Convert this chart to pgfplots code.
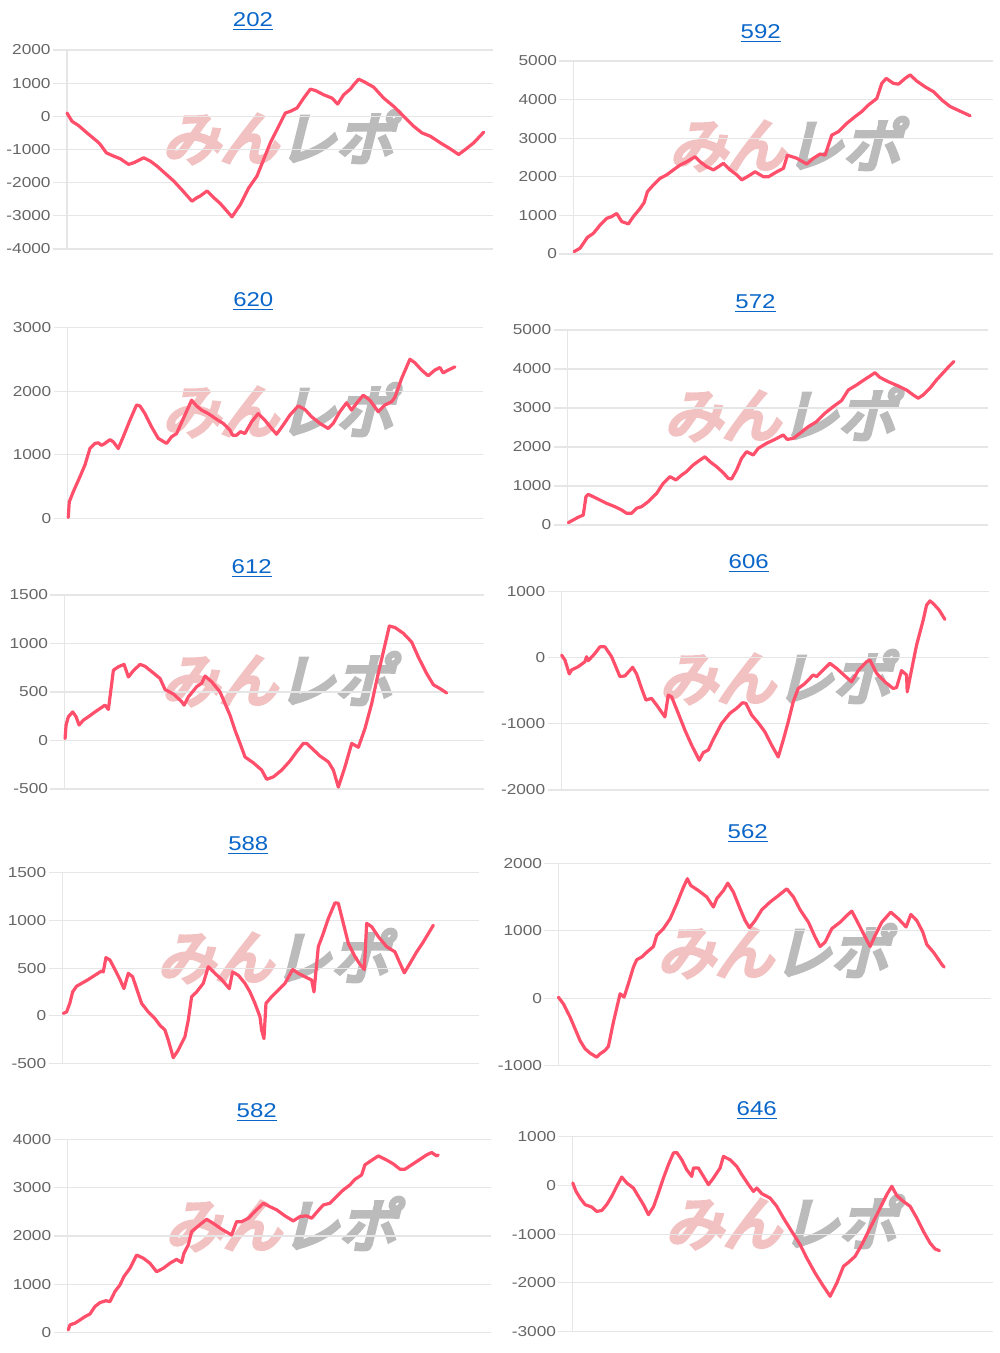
\documentclass[border=0pt]{standalone}
\usepackage{fontspec}
\setmainfont{Liberation Sans}[FakeStretch=1.2]
\newfontfamily\wm{Noto Sans CJK JP}[FakeSlant=0.25,FakeBold=7]
\usepackage{pgfplots}
\pgfplotsset{compat=1.18}
\definecolor{linered}{HTML}{FF4F6B}
\definecolor{titleblue}{HTML}{0A66C8}
\definecolor{ticklab}{HTML}{666666}
\definecolor{gridc}{HTML}{E6E6E6}
\definecolor{zeroc}{HTML}{C4C4C4}
\definecolor{wmpink}{HTML}{F2C2C2}
\definecolor{wmgray}{HTML}{BBBBBB}
\pgfplotsset{panel/.style={
  scale only axis, anchor=south west, clip=false,
  axis x line=none, axis y line*=left,
  y axis line style={gridc, line width=0.6pt},
  ymajorgrids, major grid style={gridc, line width=0.6pt},
  tick align=outside, major tick length=7pt,
  ytick style={gridc, line width=0.6pt},
  yticklabel style={font=\fontsize{7.2}{8}\selectfont, text=ticklab, inner sep=1pt},
  /pgf/number format/assume math mode=true,
  /pgf/number format/set thousands separator={},
  scaled y ticks=false,
  extra y tick labels={},
  extra y tick style={grid style={zeroc, line width=0.8pt}, tick style={gridc}},
  cycle list={{linered, mark=none}},
  every axis plot post/.append style={line width=1.6pt, line join=round, line cap=round},
}}
\newcommand{\wmark}[2]{\node at (#1*0.5pt,-#2*0.5pt) {\wm\fontsize{29}{29}\selectfont\textcolor{wmpink}{みん}\textcolor{wmgray}{レポ}};}
\newcommand{\ttl}[3]{\node[text=titleblue, font=\fontsize{10}{12}\selectfont] at (#1*0.5pt,-#2*0.5pt) {\underline{#3}};}
\begin{document}
\begin{tikzpicture}
\path[use as bounding box] (0,0) rectangle (500pt,-676.5pt);
\wmark{278}{137}\wmark{785}{144}\wmark{278}{410}\wmark{780}{414}\wmark{277}{679}
\wmark{775}{677}\wmark{273}{956}\wmark{773}{951}\wmark{281}{1224}\wmark{781}{1222}
\ttl{253}{22}{202}\ttl{760.7}{34}{592}\ttl{253.3}{301.3}{620}\ttl{755.5}{303.3}{572}
\ttl{251.7}{569}{612}\ttl{748.7}{564}{606}\ttl{248.3}{845.7}{588}\ttl{747.7}{834}{562}
\ttl{256.7}{1112.3}{582}\ttl{756.7}{1110.7}{646}
% 202
\begin{axis}[panel, at={(33.5pt,-124.5pt)}, width=213pt, height=99.5pt,
  xmin=200, xmax=1478, ymin=-4000, ymax=2000, ytick={-4000,-3000,...,2000}, extra y ticks={0,-4000}]
\addplot coordinates {(200,100)(215,-150)(235,-280)(260,-500)(290,-750)(300,-850)(318,-1100)(340,-1200)(360,-1280)(385,-1450)(400,-1400)(430,-1250)(450,-1350)(470,-1500)(490,-1680)(520,-1950)(545,-2220)(575,-2560)(590,-2450)(600,-2400)(620,-2250)(640,-2450)(660,-2630)(680,-2860)(695,-3030)(720,-2660)(745,-2160)(770,-1800)(790,-1300)(810,-800)(830,-400)(855,100)(870,150)(890,250)(910,550)(930,820)(945,780)(970,650)(995,550)(1012,370)(1030,650)(1050,820)(1060,950)(1075,1120)(1090,1050)(1120,880)(1150,550)(1180,300)(1210,0)(1240,-300)(1265,-500)(1290,-600)(1320,-800)(1345,-950)(1375,-1150)(1395,-1000)(1420,-800)(1450,-480)};
\end{axis}
% 592
\begin{axis}[panel, at={(286.7pt,-127pt)}, width=209.7pt, height=96.5pt,
  xmin=220, xmax=1478, ymin=0, ymax=5000, ytick={0,1000,...,5000}, extra y ticks={0}]
\addplot coordinates {(222,60)(240,150)(262,430)(280,535)(300,750)(320,925)(335,970)(350,1050)(365,840)(385,780)(400,970)(420,1180)(432,1330)(442,1615)(460,1790)(480,1960)(500,2050)(520,2180)(540,2305)(560,2390)(585,2520)(600,2390)(620,2260)(640,2180)(655,2260)(670,2350)(690,2180)(710,2050)(725,1920)(745,2020)(765,2130)(790,2000)(805,2000)(830,2130)(850,2220)(862,2560)(890,2480)(920,2330)(940,2480)(960,2590)(975,2560)(995,3080)(1015,3170)(1040,3385)(1065,3560)(1085,3690)(1105,3860)(1130,4030)(1145,4420)(1158,4550)(1180,4420)(1195,4400)(1215,4550)(1230,4640)(1250,4480)(1275,4330)(1300,4205)(1325,3990)(1350,3820)(1380,3700)(1410,3580)};
\end{axis}
% 620
\begin{axis}[panel, at={(33.8pt,-259.2pt)}, width=207.8pt, height=95.3pt,
  xmin=203, xmax=1450, ymin=0, ymax=3000, ytick={0,1000,...,3000}, extra y ticks={0}]
\addplot coordinates {(205,15)(208,260)(220,420)(240,655)(255,840)(270,1100)(285,1180)(295,1190)(305,1150)(315,1180)(330,1240)(340,1205)(355,1100)(370,1285)(390,1545)(410,1785)(420,1770)(435,1650)(455,1440)(475,1260)(500,1180)(515,1285)(530,1335)(555,1625)(575,1860)(590,1770)(605,1705)(625,1650)(650,1560)(670,1495)(690,1390)(698,1310)(710,1310)(722,1365)(735,1335)(755,1520)(775,1650)(795,1545)(815,1415)(830,1325)(850,1470)(870,1625)(895,1770)(915,1715)(935,1600)(960,1495)(985,1415)(1000,1495)(1020,1680)(1040,1820)(1055,1705)(1070,1810)(1090,1940)(1110,1860)(1135,1680)(1155,1785)(1175,1835)(1185,1905)(1205,2200)(1230,2505)(1245,2450)(1265,2335)(1285,2245)(1305,2335)(1320,2375)(1330,2290)(1345,2335)(1365,2385)};
\end{axis}
% 572
\begin{axis}[panel, at={(283.8pt,-262.5pt)}, width=210.3pt, height=97.5pt,
  xmin=203, xmax=1465, ymin=0, ymax=5000, ytick={0,1000,...,5000}, extra y ticks={0}]
\addplot coordinates {(205,60)(220,130)(235,200)(250,255)(258,725)(265,785)(280,725)(300,640)(320,555)(345,470)(365,385)(380,300)(395,300)(410,430)(425,470)(445,600)(470,810)(490,1070)(510,1240)(528,1155)(545,1280)(560,1370)(580,1540)(600,1665)(615,1750)(630,1625)(650,1495)(670,1340)(685,1195)(695,1180)(710,1410)(725,1710)(740,1880)(760,1795)(775,1965)(800,2095)(825,2195)(850,2310)(862,2195)(880,2220)(900,2350)(925,2520)(950,2650)(975,2865)(1000,3035)(1025,3190)(1045,3460)(1070,3590)(1095,3735)(1115,3845)(1125,3905)(1140,3785)(1165,3675)(1195,3565)(1220,3460)(1240,3335)(1255,3250)(1270,3335)(1290,3505)(1310,3720)(1330,3905)(1345,4045)(1362,4190)};
\end{axis}
% 612
\begin{axis}[panel, at={(32.2pt,-394.5pt)}, width=209.8pt, height=97pt,
  xmin=193, xmax=1452, ymin=-500, ymax=1500, ytick={-500,0,...,1500}, extra y ticks={0,-500}]
\addplot coordinates {(195,20)(198,160)(205,245)(218,295)(228,245)(237,160)(250,210)(265,245)(285,295)(300,330)(315,365)(325,320)(333,535)(340,725)(355,760)(372,785)(385,655)(400,720)(420,785)(435,765)(455,710)(480,640)(495,525)(520,480)(545,400)(552,365)(565,450)(590,555)(605,590)(615,665)(635,605)(660,500)(690,260)(705,105)(720,-30)(735,-170)(760,-230)(785,-305)(800,-400)(820,-375)(845,-305)(870,-210)(890,-115)(910,-30)(920,-30)(940,-95)(960,-160)(985,-220)(1000,-305)(1015,-480)(1035,-270)(1055,-30)(1075,-70)(1095,125)(1115,380)(1130,620)(1150,915)(1168,1180)(1185,1165)(1210,1105)(1235,1015)(1255,860)(1280,690)(1300,575)(1320,535)(1340,490)};
\end{axis}
% 606
\begin{axis}[panel, at={(280.8pt,-395pt)}, width=213.8pt, height=99.2pt,
  xmin=185, xmax=1468, ymin=-2000, ymax=1000, ytick={-2000,-1000,...,1000}, extra y ticks={0,-2000}]
\addplot coordinates {(185,40)(195,-35)(208,-245)(215,-185)(235,-135)(255,-60)(260,15)(265,-45)(285,65)(300,165)(315,165)(335,15)(360,-285)(375,-275)(398,-145)(410,-245)(425,-465)(438,-640)(455,-615)(470,-715)(495,-895)(505,-565)(515,-590)(535,-840)(555,-1095)(575,-1320)(598,-1550)(610,-1435)(625,-1395)(640,-1235)(665,-995)(690,-840)(710,-765)(728,-680)(738,-690)(755,-865)(775,-985)(795,-1120)(815,-1320)(835,-1500)(850,-1245)(865,-970)(880,-665)(895,-465)(915,-390)(940,-260)(950,-285)(965,-210)(990,-85)(1010,-160)(1035,-275)(1055,-365)(1075,-195)(1100,-60)(1110,-35)(1130,-235)(1155,-365)(1180,-465)(1190,-450)(1205,-195)(1220,-260)(1222,-515)(1235,-185)(1250,190)(1270,570)(1280,795)(1290,860)(1300,820)(1318,720)(1335,580)};
\end{axis}
% 588
\begin{axis}[panel, at={(31.3pt,-531.7pt)}, width=208.2pt, height=95.3pt,
  xmin=188, xmax=1437, ymin=-500, ymax=1500, ytick={-500,0,...,1500}, extra y ticks={0,-500}]
\addplot coordinates {(190,25)(200,40)(210,135)(218,250)(230,310)(245,340)(265,380)(285,425)(305,470)(310,460)(318,610)(330,585)(345,485)(360,380)(372,285)(385,445)(398,410)(410,285)(425,130)(445,40)(465,-30)(480,-100)(495,-150)(505,-255)(520,-440)(535,-360)(555,-220)(565,-45)(575,200)(590,250)(610,340)(625,515)(645,445)(665,380)(688,285)(698,460)(715,425)(735,340)(750,250)(765,130)(780,-10)(785,-150)(792,-240)(798,130)(815,200)(835,270)(855,340)(878,485)(895,445)(920,400)(935,375)(942,250)(955,725)(968,845)(985,1020)(1005,1185)(1015,1180)(1030,970)(1045,760)(1065,620)(1080,540)(1093,485)(1100,970)(1115,935)(1135,830)(1160,725)(1185,670)(1200,550)(1213,450)(1230,550)(1250,670)(1270,775)(1300,950)};
\end{axis}
% 562
\begin{axis}[panel, at={(279.2pt,-532.8pt)}, width=216.2pt, height=101.2pt,
  xmin=175, xmax=1472, ymin=-1000, ymax=2000, ytick={-1000,0,...,2000}, extra y ticks={0,-1000}]
\addplot coordinates {(175,15)(190,-85)(210,-280)(225,-455)(240,-630)(255,-750)(270,-815)(290,-875)(300,-825)(315,-775)(325,-715)(340,-355)(360,65)(372,15)(385,215)(400,460)(410,570)(425,610)(440,680)(460,765)(470,930)(490,1030)(510,1175)(530,1400)(550,1645)(562,1770)(572,1670)(595,1595)(620,1500)(640,1350)(650,1475)(670,1595)(683,1705)(700,1570)(720,1325)(735,1150)(748,1045)(765,1150)(785,1310)(810,1425)(835,1520)(860,1620)(880,1500)(900,1310)(925,1125)(945,905)(960,765)(975,830)(995,1030)(1020,1125)(1040,1225)(1055,1290)(1070,1150)(1090,955)(1110,765)(1125,930)(1145,1125)(1172,1275)(1195,1175)(1218,1055)(1232,1240)(1250,1150)(1268,980)(1280,795)(1300,680)(1310,610)(1325,500)(1332,460)};
\end{axis}
% 582
\begin{axis}[panel, at={(33.8pt,-666.3pt)}, width=211.5pt, height=96.7pt,
  xmin=203, xmax=1472, ymin=0, ymax=4000, ytick={0,1000,...,4000}, extra y ticks={0}]
\addplot coordinates {(205,55)(210,160)(225,195)(240,260)(255,330)(270,385)(285,540)(300,620)(318,660)(330,640)(345,850)(360,985)(372,1160)(390,1330)(410,1605)(430,1540)(450,1435)(470,1260)(490,1330)(510,1435)(530,1515)(545,1450)(552,1640)(565,1815)(575,2090)(595,2205)(620,2345)(640,2260)(665,2140)(695,2020)(710,2295)(725,2295)(745,2365)(765,2505)(790,2675)(810,2605)(830,2540)(855,2415)(880,2310)(900,2400)(920,2415)(935,2365)(955,2525)(970,2640)(990,2675)(1010,2815)(1030,2950)(1050,3055)(1065,3170)(1085,3260)(1095,3470)(1110,3540)(1135,3655)(1160,3570)(1180,3490)(1200,3380)(1215,3380)(1235,3470)(1255,3560)(1280,3675)(1295,3725)(1310,3655)(1315,3675)};
\end{axis}
% 646
\begin{axis}[panel, at={(286.2pt,-665.8pt)}, width=210.2pt, height=97.5pt,
  xmin=217, xmax=1478, ymin=-3000, ymax=1000, ytick={-3000,-2000,...,1000}, extra y ticks={0,-3000}]
\addplot coordinates {(218,50)(228,-125)(240,-260)(255,-395)(275,-445)(290,-535)(305,-515)(320,-395)(335,-225)(350,-20)(365,170)(380,50)(400,-55)(415,-225)(430,-395)(445,-600)(460,-445)(475,-155)(490,150)(505,425)(520,665)(530,675)(545,525)(560,320)(575,185)(580,355)(595,355)(610,185)(625,15)(640,150)(660,355)(670,595)(690,525)(710,390)(725,220)(745,15)(760,-125)(770,-55)(785,-170)(810,-260)(830,-430)(850,-670)(875,-945)(900,-1215)(920,-1490)(945,-1800)(970,-2070)(990,-2275)(1010,-2005)(1030,-1660)(1045,-1580)(1065,-1455)(1085,-1215)(1110,-875)(1135,-535)(1160,-190)(1175,-20)(1190,-210)(1210,-330)(1230,-430)(1250,-670)(1270,-945)(1290,-1185)(1305,-1305)(1318,-1340)};
\end{axis}
\end{tikzpicture}
\end{document}
